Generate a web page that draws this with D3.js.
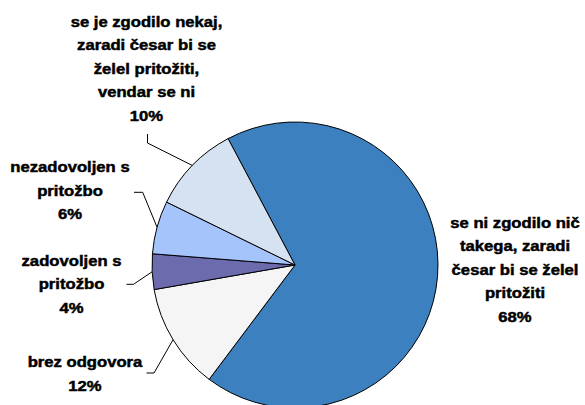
<!DOCTYPE html>
<html>
<head>
<meta charset="utf-8">
<script src="https://cdn.jsdelivr.net/npm/d3@7/dist/d3.min.js"></script>
<style>
  html, body { margin: 0; padding: 0; background: #fff; }
  svg { display: block; }
  text { font-family: "Liberation Sans", Arial, sans-serif; font-weight: bold; font-size: 14px; fill: #000; stroke: #000; stroke-width: 0.45px; }
</style>
</head>
<body>
<svg id="chart" width="585" height="405"></svg>
<script>
// Survey answers (share of respondents, %)
const categories = [
  "se ni zgodilo nič takega, zaradi česar bi se želel pritožiti",
  "brez odgovora",
  "zadovoljen s pritožbo",
  "nezadovoljen s pritožbo",
  "se je zgodilo nekaj, zaradi česar bi se želel pritožiti, vendar se ni"
];
const values = [68, 12, 4, 6, 10];
// Wrapped label lines for each category
const labelLines = [
  ["se ni zgodilo nič", "takega, zaradi", "česar bi se želel", "pritožiti"],
  ["brez odgovora"],
  ["zadovoljen s", "pritožbo"],
  ["nezadovoljen s", "pritožbo"],
  ["se je zgodilo nekaj,", "zaradi česar bi se", "želel pritožiti,", "vendar se ni"]
];
const colors = ["#3c80c0", "#f5f5f5", "#6b6bae", "#a5c4fb", "#d4e2f1"];

// Geometry
const cx = 295, cy = 265, radius = 143;
const startDeg = -27.9;
const lineGap = 23.5;
const stretch = 1.19;

// Label placement: text centre x, first baseline y, and leader elbow/end (null = no leader)
const labelLayout = [
  { x: 515, y: 228, leader: null },
  { x: 85, y: 367.5, leader: [[154, 373], [146.5, 373]] },
  { x: 71.5, y: 266, leader: [[133.5, 284.3], [126.5, 284.3]] },
  { x: 70, y: 172.5, leader: [[142.7, 192.3], [134, 192.3]] },
  { x: 146.5, y: 27, leader: [[147.5, 143], [147.5, 134]] }
];

const svg = d3.select("#chart");
const data = categories.map((c, i) => ({ category: c, value: values[i], lines: labelLines[i], color: colors[i], layout: labelLayout[i] }));

const start = startDeg * Math.PI / 180;
const pie = d3.pie().sort(null).value(d => d.value).startAngle(start).endAngle(start + 2 * Math.PI);
const arc = d3.arc().innerRadius(0).outerRadius(radius);
const arcs = pie(data);

const g = svg.append("g").attr("transform", `translate(${cx},${cy})`);
g.selectAll("path.slice")
  .data(arcs)
  .join("path")
  .attr("class", "slice")
  .attr("d", arc)
  .attr("fill", d => d.data.color)
  .attr("stroke", "#000")
  .attr("stroke-width", 1)
  .attr("stroke-linejoin", "round");

// Leader lines from slice mid-angle on the rim to the label
const lineGen = d3.line();
arcs.forEach(a => {
  const lay = a.data.layout;
  if (!lay.leader) return;
  const mid = (a.startAngle + a.endAngle) / 2;
  const p0 = [cx + radius * Math.sin(mid), cy - radius * Math.cos(mid)];
  svg.append("path")
    .attr("d", lineGen([p0, ...lay.leader]))
    .attr("fill", "none")
    .attr("stroke", "#000")
    .attr("stroke-width", 1);
});

// Category labels with percentage on the final line
arcs.forEach(a => {
  const lay = a.data.layout;
  const lines = [...a.data.lines, `${a.data.value}%`];
  const t = svg.append("text")
    .attr("text-anchor", "middle")
    .attr("transform", `translate(${lay.x},0) scale(${stretch},1)`);
  lines.forEach((ln, i) => {
    t.append("tspan").attr("x", 0).attr("y", lay.y + i * lineGap).text(ln);
  });
});
</script>
</body>
</html>
